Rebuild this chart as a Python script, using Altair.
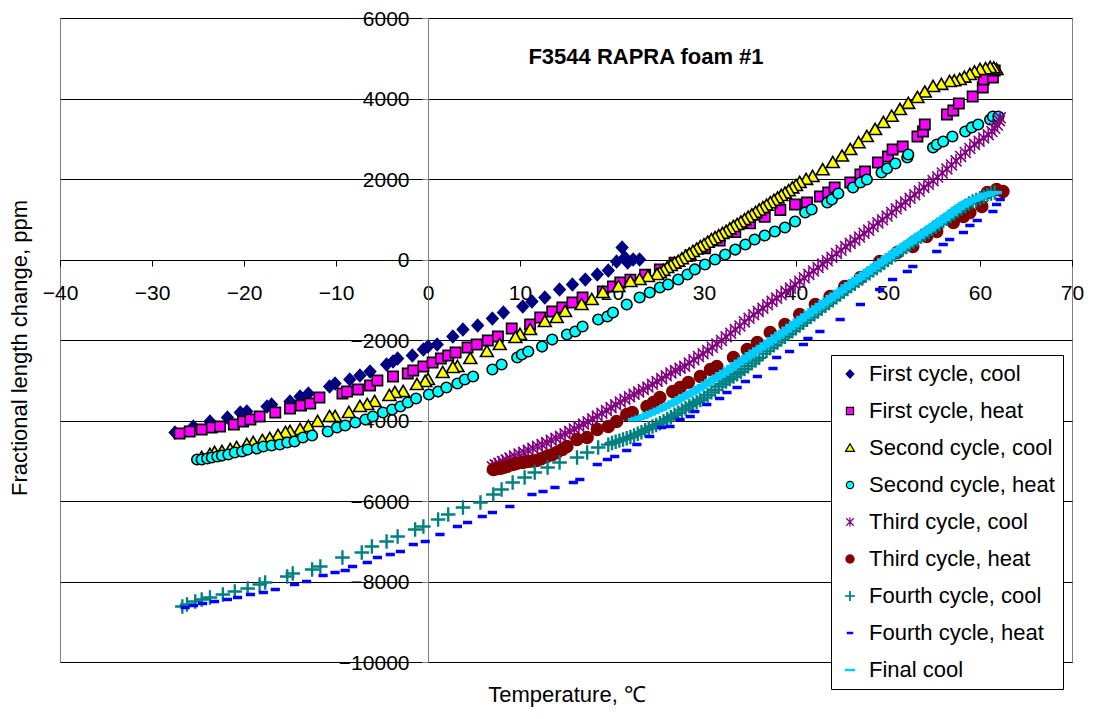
import altair as alt
import pandas as pd

FONT = "Liberation Sans"

series_names = [
    "First cycle, cool", "First cycle, heat", "Second cycle, cool", "Second cycle, heat",
    "Third cycle, cool", "Third cycle, heat", "Fourth cycle, cool", "Fourth cycle, heat", "Final cool",
]

# ---- First cycle, cool ----
t_c1_cool = [23.0, 22.3, 21.7, 21.4, 21.1, 20.5, 19.6, 18.4, 17.1, 15.7, 14.3, 12.7, 11.3, 10.3, 8.2,
             7.0, 5.4, 3.8, 2.7, 1.0, 0.0, -0.5, -1.7, -3.3, -3.8, -4.5, -6.3, -7.4, -8.5, -10.1,
             -10.7, -13.0, -13.9, -15.0, -17.0, -17.5, -19.7, -20.4, -21.8, -23.7, -25.5, -27.5]
p_c1_cool = [0, 0, -75, 50, 298, -50, -273, -373, -497, -621, -745, -944, -1043, -1168, -1317,
             -1466, -1640, -1739, -1913, -2112, -2162, -2236, -2385, -2460, -2534, -2609, -2783, -2882, -2981, -3081,
             -3155, -3329, -3404, -3528, -3603, -3652, -3776, -3801, -3926, -4025, -4149, -4298]

# ---- First cycle, heat ----
t_c1_heat = [-27.0, -25.9, -24.6, -23.5, -22.6, -21.1, -20.1, -19.3, -18.3, -16.6, -15.0, -13.8, -12.8, -11.8, -9.3,
             -8.8, -7.6, -6.3, -5.5, -3.8, -2.2, -1.6, -0.5, 0.5, 1.4, 2.2, 3.0, 4.3, 5.3, 6.5,
             7.6, 9.1, 11.1, 12.2, 13.5, 14.6, 15.7, 16.8, 19.0, 20.1, 20.9, 22.0, 23.6, 25.2, 26.8,
             28.5, 30.1, 31.7, 33.4, 35.0, 36.6, 38.3, 39.9, 41.2, 42.6, 43.5, 44.2, 45.9, 47.0, 47.5,
             48.9, 50.0, 50.5, 51.6, 53.2, 53.8, 54.0, 56.4, 57.1, 57.7, 59.2, 60.3, 60.4, 61.4, 61.6]
p_c1_heat = [-4323, -4273, -4224, -4174, -4149, -4099, -4025, -3975, -3901, -3801, -3702, -3627, -3578, -3429, -3329,
             -3280, -3230, -3130, -3006, -2907, -2832, -2758, -2658, -2559, -2460, -2385, -2311, -2186, -2112, -2012,
             -1913, -1714, -1615, -1441, -1292, -1193, -1068, -944, -795, -671, -571, -500, -380, -250, -80,
             100, 280, 470, 680, 900, 1060, 1230, 1366, 1416, 1565, 1665, 1789, 1913, 2112, 2186,
             2410, 2559, 2733, 2807, 3056, 3180, 3354, 3603, 3702, 3876, 4050, 4273, 4472, 4522, 4696]

# ---- Second cycle, cool ----
t_c2_cool = [61.8, 61.5, 61.1, 60.6, 60.0, 59.4, 58.9, 58.3, 57.8, 57.2, 56.7, 55.8, 54.9, 54.0, 53.2,
             52.2, 51.3, 50.4, 49.5, 48.6, 47.7, 46.8, 45.9, 45.0, 44.0, 42.9, 41.8, 41.1, 40.4,
             40.0, 39.6, 39.2, 38.8, 38.4, 38.0, 37.6, 37.2, 36.8, 36.4, 36.0, 35.6, 35.2, 34.8, 34.4,
             34.0, 33.6, 33.2, 32.8, 32.4, 32.0, 31.6, 31.2, 30.8, 30.4, 30.0, 29.6, 29.2, 28.8, 28.4,
             28.0, 27.6, 27.2, 26.8, 26.4, 26.0, 25.6, 25.2,
             24.9, 23.9, 23.0, 22.0, 20.7, 19.0, 17.8, 16.7, 14.9, 14.0, 12.7, 11.1, 10.0, 9.5, 7.8,
             6.4, 4.6, 3.2, 2.7, 1.6, 0.0, -0.3, -1.2, -2.7, -3.6, -4.2, -5.8, -6.6, -7.4, -8.6,
             -10.1, -10.7, -12.0, -13.0, -13.9, -15.0, -15.5, -16.3, -17.2, -18.0, -19.0, -19.7, -20.8, -21.5,
             -22.4, -23.2, -23.7, -24.6]
p_c2_cool = [4720, 4760, 4770, 4740, 4720, 4660, 4596, 4530, 4472, 4440, 4422, 4350, 4298, 4160, 4025,
             3880, 3727, 3560, 3404, 3230, 3056, 2900, 2733, 2570, 2410, 2230, 2062, 1990, 1913,
             1840, 1780, 1710, 1650, 1590, 1530, 1470, 1410, 1350, 1290, 1230, 1170, 1110, 1050, 990,
             930, 870, 820, 760, 700, 650, 590, 540, 490, 430, 370, 320, 260, 200, 140,
             80, 20, -40, -90, -150, -200, -270, -330,
             -373, -422, -497, -547, -671, -820, -994, -1118, -1292, -1441, -1540, -1739, -1863, -1938, -2112,
             -2286, -2460, -2658, -2683, -2807, -2981, -3031, -3106, -3280, -3304, -3379, -3528, -3603, -3652, -3801,
             -3901, -3901, -4025, -4149, -4224, -4273, -4298, -4373, -4447, -4497, -4547, -4596, -4671, -4721,
             -4770, -4795, -4845, -4919]

# ---- Second cycle, heat ----
t_c2_heat = [-25.1, -24.6, -24.0, -23.5, -22.9, -22.4, -21.7, -21.0, -20.2, -19.6, -18.6, -17.9, -17.0, -16.1, -15.3,
             -14.5, -13.6, -12.6, -10.9, -9.9, -9.0, -7.9, -6.8, -6.0, -4.9, -3.9, -3.0, -2.2, -1.3, 0.1,
             1.1, 2.0, 3.2, 4.0, 4.9, 7.0, 8.0, 9.7, 10.2, 10.9, 12.4, 13.5, 15.1, 16.0, 16.8,
             18.5, 19.5, 20.1, 21.6, 23.0, 24.1, 25.2, 26.1, 27.2, 28.2, 29.0, 30.1, 31.2, 32.3, 33.4,
             34.5, 35.5, 36.6, 37.7, 38.8, 39.9, 41.0, 41.7, 43.4, 43.9, 44.6, 46.2, 47.0, 47.7, 49.3,
             49.9, 50.8, 52.1, 52.2, 54.9, 55.3, 56.0, 57.0, 58.4, 59.1, 59.8, 61.1, 61.4, 62.0]
p_c2_heat = [-4969, -4969, -4944, -4919, -4894, -4870, -4845, -4795, -4770, -4721, -4696, -4646, -4621, -4596, -4547,
             -4522, -4422, -4373, -4273, -4174, -4124, -4050, -3975, -3901, -3801, -3727, -3652, -3553, -3453, -3354,
             -3280, -3180, -3081, -2981, -2907, -2733, -2609, -2435, -2360, -2286, -2162, -1988, -1863, -1789, -1665,
             -1491, -1416, -1317, -1118, -944, -820, -696, -621, -497, -373, -248, -124, 0, 124, 248,
             373, 497, 596, 696, 795, 944, 1168, 1242, 1416, 1491, 1640, 1789, 1913, 1988, 2162,
             2261, 2385, 2534, 2609, 2783, 2857, 2932, 3056, 3180, 3280, 3354, 3478, 3553, 3553]

# ---- Third cycle, cool ----
t_c3_cool = [62.2, 62.1, 61.9, 61.6, 61.3, 60.9, 60.4, 59.9, 59.4, 58.9, 58.4, 57.9, 57.4, 56.9, 56.4,
             55.9, 55.4, 54.9, 54.4, 53.9, 53.4, 52.9, 52.4, 51.9, 51.4, 50.9, 50.4, 49.9, 49.4, 48.9,
             48.4, 47.9, 47.4, 46.9, 46.4, 45.9, 45.4, 44.9, 44.4, 43.9, 43.4, 42.9, 42.4, 41.9, 41.4,
             40.9, 40.4, 39.9, 39.4, 38.9, 38.4, 37.9, 37.4, 36.9, 36.4, 35.9, 35.4, 34.9, 34.4, 33.9,
             33.4, 32.9, 32.4, 31.9, 31.4, 30.9, 30.4, 29.9, 29.4, 28.9, 28.4, 27.9, 27.4, 26.9, 26.4,
             25.9, 25.4, 24.9, 24.4, 23.9, 23.4, 22.9, 22.4, 21.9, 21.4, 20.9, 20.4, 19.9, 19.4, 18.9,
             18.4, 17.9, 17.4, 16.9, 16.4, 15.9, 15.4, 14.9, 14.4, 13.9, 13.4, 12.9, 12.4, 11.9, 11.4,
             10.9, 10.4, 9.9, 9.4, 8.9, 8.5, 8.1, 7.7, 7.3, 7.0]
p_c3_cool = [3520, 3450, 3340, 3260, 3180, 3100, 3020, 2940, 2860, 2760, 2660, 2560, 2450, 2350, 2250,
             2150, 2050, 1960, 1870, 1790, 1700, 1610, 1520, 1430, 1350, 1260, 1170, 1080, 990, 910,
             820, 730, 650, 560, 480, 400, 320, 230, 150, 55, -30, -115, -200, -285, -370,
             -455, -540, -625, -710, -790, -875, -960, -1040, -1125, -1210, -1290, -1375, -1460, -1550, -1650,
             -1740, -1830, -1920, -2010, -2100, -2180, -2260, -2340, -2410, -2490, -2570, -2650, -2700, -2760, -2820,
             -2890, -2960, -3030, -3100, -3170, -3230, -3290, -3350, -3410, -3470, -3540, -3610, -3680, -3750, -3820,
             -3890, -3960, -4030, -4090, -4150, -4210, -4270, -4330, -4390, -4440, -4490, -4550, -4600, -4640, -4690,
             -4740, -4790, -4830, -4880, -4930, -4980, -5020, -5060, -5100, -5150]

# ---- Third cycle, heat ----
t_c3_heat = [7.1, 7.4, 7.8, 8.2, 8.6, 9.2, 9.6, 10.3, 10.8, 11.3, 11.8, 12.3, 12.9, 13.5, 14.0,
             14.6, 15.1, 16.2, 17.3, 18.4, 19.6, 20.5, 21.6, 22.2, 23.8, 24.5, 25.2, 26.6, 27.4, 28.3,
             29.6, 30.7, 31.4, 33.2, 34.7, 35.8, 37.2, 38.8, 40.4, 42.1, 43.7, 45.3, 47.0, 49.1, 51.0,
             52.7, 54.2, 55.3, 57.1, 58.2, 58.9, 60.2, 60.8, 61.8, 62.5]
p_c3_heat = [-5218, -5200, -5190, -5168, -5140, -5093, -5070, -5044, -5020, -5010, -4994, -4950, -4894, -4850, -4795,
             -4720, -4646, -4472, -4422, -4224, -4149, -4025, -3851, -3801, -3652, -3553, -3429, -3280, -3180, -3056,
             -2907, -2733, -2658, -2435, -2236, -2062, -1814, -1615, -1366, -1118, -919, -671, -447, -50, 174,
             323, 571, 696, 919, 1068, 1168, 1317, 1665, 1739, 1690]

# ---- Fourth cycle, cool ----
t_c4_cool = [61.6, 61.2, 60.8, 60.4, 60.0, 59.6, 59.2, 58.8, 58.4, 58.0, 57.6, 57.2, 56.8, 56.4, 56.0,
             55.6, 55.2, 54.8, 54.4, 54.0, 53.6, 53.2, 52.8, 52.4, 52.0, 51.6, 51.2, 50.8, 50.4, 50.0,
             49.6, 49.2, 48.8, 48.4, 48.0, 47.6, 47.2, 46.8, 46.4, 46.0, 45.6, 45.2, 44.8, 44.4, 44.0,
             43.6, 43.2, 42.8, 42.4, 42.0, 41.6, 41.2, 40.8, 40.4, 40.0, 39.6, 39.2, 38.8, 38.4, 38.0,
             37.6, 37.2, 36.8, 36.4, 36.0, 35.6, 35.2, 34.8, 34.4, 34.0, 33.6, 33.2, 32.8, 32.4, 32.0,
             31.6, 31.2, 30.8, 30.4, 30.0, 29.6, 29.2, 28.8, 28.4, 28.0, 27.6, 27.2, 26.8, 26.4, 26.0,
             25.6, 25.2, 24.8, 24.4, 24.0, 23.6, 23.2, 22.8, 22.4, 22.0, 21.6, 21.2, 20.8, 20.4, 20.0,
             19.6, 18.5, 17.3, 16.2, 14.3, 13.0, 11.6, 10.5, 9.2, 8.0, 7.1, 5.7, 3.8, 2.2, 1.1,
             -0.5, -1.4, -3.3, -4.5, -6.1, -7.2, -9.3, -11.7, -12.6, -14.7, -15.3, -17.7, -18.3, -19.6, -21.0,
             -22.3, -23.7, -24.6, -25.3, -26.2, -26.7]
p_c4_cool = [1665, 1640, 1600, 1560, 1520, 1480, 1440, 1390, 1330, 1270, 1210, 1150, 1080, 1010, 950,
             880, 820, 760, 690, 630, 570, 500, 440, 380, 310, 250, 180, 120, 50, -10,
             -80, -140, -210, -270, -340, -400, -470, -530, -600, -660, -730, -800, -870, -940, -1010,
             -1080, -1150, -1220, -1290, -1360, -1430, -1500, -1570, -1640, -1710, -1780, -1850, -1920, -1990, -2060,
             -2130, -2200, -2270, -2340, -2440, -2510, -2580, -2650, -2720, -2790, -2850, -2910, -2970, -3030, -3100,
             -3160, -3240, -3300, -3370, -3430, -3490, -3540, -3590, -3640, -3700, -3750, -3810, -3860, -3920, -3970,
             -4020, -4070, -4110, -4150, -4200, -4240, -4290, -4330, -4370, -4410, -4440, -4470, -4500, -4530, -4560,
             -4600, -4671, -4795, -4919, -5044, -5168, -5292, -5416, -5540, -5714, -5839, -6037, -6162, -6335, -6460,
             -6634, -6708, -6882, -7006, -7131, -7280, -7404, -7627, -7702, -7801, -7876, -8025, -8075, -8174, -8249,
             -8323, -8398, -8447, -8497, -8571, -8621]

# ---- Fourth cycle, heat ----
t_c4_heat = [-26.4, -25.5, -24.5, -23.2, -21.8, -20.7, -19.3, -17.9, -16.6, -14.5, -13.2, -11.4, -10.1, -9.0, -8.2,
             -6.6, -5.5, -4.1, -3.0, -1.6, -0.3, 1.3, 3.2, 4.3, 5.9, 7.0, 8.9, 11.3, 12.5, 13.8,
             15.8, 16.5, 18.4, 19.5, 20.3, 21.6, 22.7, 24.1, 25.4, 26.3, 27.4, 28.5, 29.0, 30.3, 31.7,
             32.5, 33.6, 34.5, 35.8, 37.5, 37.9, 39.3, 40.8, 41.3, 42.6, 44.8, 47.0, 49.1, 50.5, 52.1,
             52.7, 55.3, 56.0, 56.7, 58.2, 58.9, 59.7, 61.4, 61.8, 62.2]
p_c4_heat = [-8646, -8596, -8547, -8497, -8447, -8398, -8323, -8273, -8199, -8075, -8000, -7851, -7776, -7727, -7627,
             -7528, -7404, -7329, -7255, -7081, -7006, -6832, -6634, -6534, -6385, -6286, -6137, -5839, -5764, -5665,
             -5540, -5466, -5093, -4969, -4894, -4745, -4596, -4398, -4174, -4149, -3975, -3901, -3776, -3603, -3453,
             -3304, -3180, -3031, -2907, -2708, -2435, -2286, -2112, -1963, -1789, -1491, -1118, -745, -497, -298,
             -174, 199, 373, 497, 671, 845, 969, 1193, 1366, 1491]

# ---- Final cool ----
t_final = [61.6, 61.2, 60.8, 60.4, 60.0, 59.6, 59.2, 58.8, 58.4, 58.0, 57.6, 57.2, 56.8, 56.4, 56.0,
           55.6, 55.2, 54.8, 54.4, 54.0, 53.6, 53.2, 52.8, 52.4, 52.0, 51.6, 51.2, 50.8, 50.4, 50.0,
           49.6, 49.2, 48.8, 48.4, 48.0, 47.6, 47.2, 46.8, 46.4, 46.0, 45.6, 45.2, 44.8, 44.4, 44.0,
           43.6, 43.2, 42.8, 42.4, 42.0, 41.6, 41.2, 40.8, 40.4, 40.0, 39.6, 39.2, 38.8, 38.4, 38.0,
           37.6, 37.2, 36.8, 36.4, 36.0, 35.6, 35.2, 34.8, 34.4, 34.0, 33.6, 33.2, 32.8, 32.4, 32.0,
           31.6, 31.2, 30.8, 30.4, 30.0, 29.6, 29.2, 28.8, 28.4, 28.0, 27.6, 27.2, 26.8, 26.4, 26.0,
           25.6, 25.2, 24.8, 24.4, 24.0, 23.6, 23.2, 22.8, 22.5]
p_final = [1665, 1650, 1620, 1590, 1550, 1510, 1480, 1440, 1390, 1330, 1270, 1200, 1130, 1070, 1000,
           940, 870, 810, 740, 680, 620, 560, 490, 430, 370, 310, 250, 180, 120, 50,
           -10, -80, -140, -210, -270, -340, -400, -470, -530, -600, -660, -730, -790, -860, -920,
           -990, -1050, -1120, -1180, -1250, -1310, -1380, -1440, -1510, -1570, -1640, -1710, -1780, -1840, -1900,
           -1970, -2030, -2100, -2160, -2220, -2280, -2340, -2410, -2470, -2530, -2590, -2660, -2720, -2780, -2840,
           -2900, -2950, -3010, -3070, -3130, -3180, -3240, -3290, -3340, -3390, -3440, -3490, -3540, -3590, -3630,
           -3680, -3720, -3760, -3800, -3840, -3880, -3920, -3950, -3980]

all_t = [t_c1_cool, t_c1_heat, t_c2_cool, t_c2_heat, t_c3_cool, t_c3_heat, t_c4_cool, t_c4_heat, t_final]
all_p = [p_c1_cool, p_c1_heat, p_c2_cool, p_c2_heat, p_c3_cool, p_c3_heat, p_c4_cool, p_c4_heat, p_final]

rows = []
for name, ts, ps in zip(series_names, all_t, all_p):
    for t, p in zip(ts, ps):
        rows.append({"series": name, "temp": t, "ppm": p})
df = pd.DataFrame(rows)
df["order"] = range(len(df))

fill_colors = ["#000080", "#FF00FF", "#FFFF00", "#00FFFF", "#800080", "#800000", "#008080", "#0000FF", "#00CCFF"]
stroke_colors = ["#000080", "#000000", "#000000", "#000000", "#800080", "#800000", "#008080", "#0000FF", "#00CCFF"]

DIAMOND = "M0,-0.8L0.74,0L0,0.8L-0.74,0Z"
SQUARE = "M-0.68,-0.68L0.68,-0.68L0.68,0.68L-0.68,0.68Z"
TRIANGLE = "M0,-0.8L0.85,0.66L-0.85,0.66Z"
CIRCLE = "M-0.7,0A0.7,0.7 0 1,0 0.7,0A0.7,0.7 0 1,0 -0.7,0Z"
DOT = "M-0.78,0A0.78,0.78 0 1,0 0.78,0A0.78,0.78 0 1,0 -0.78,0Z"
ASTERISK = "M0,-0.9L0,0.9M-0.72,-0.72L0.72,0.72M-0.72,0.72L0.72,-0.72"
PLUS = ("M-0.85,-0.05L-0.05,-0.05L-0.05,-0.85L0.05,-0.85L0.05,-0.05L0.85,-0.05L0.85,0.05"
        "L0.05,0.05L0.05,0.85L-0.05,0.85L-0.05,0.05L-0.85,0.05Z")
DASH = "M-0.5,-0.12L0.5,-0.12L0.5,0.12L-0.5,0.12Z"
LONGDASH = "M-0.85,-0.12L0.85,-0.12L0.85,0.12L-0.85,0.12Z"
shapes = [DIAMOND, SQUARE, TRIANGLE, CIRCLE, ASTERISK, DOT, PLUS, DASH, LONGDASH]

W, H = 1012, 644

leg = alt.Legend(
    orient="none", legendX=771, legendY=337, title=None,
    labelFont=FONT, labelFontSize=22, labelColor="black", labelLimit=0,
    strokeColor="black", fillColor="white", padding=8, rowPadding=15,
    symbolSize=110, symbolStrokeWidth=1.2, labelOffset=8,
)

x_enc = alt.X(
    "temp:Q",
    scale=alt.Scale(domain=[-40, 70], nice=False, zero=False),
    axis=alt.Axis(
        values=list(range(-40, 71, 10)), offset=-402, grid=False, title=None, format="d",
        labelFont=FONT, labelFontSize=21, labelColor="black", labelPadding=16,
        tickSize=6, tickColor="black", domainColor="black", labelOverlap=False, labelFlush=False,
    ),
)
y_enc = alt.Y(
    "ppm:Q",
    scale=alt.Scale(domain=[-10000, 6000], nice=False, zero=False),
    axis=alt.Axis(
        values=list(range(-10000, 6001, 2000)), offset=-368, grid=True, gridColor="black", gridWidth=1,
        title=None, format="d", labelFont=FONT, labelFontSize=21, labelColor="black", labelPadding=13,
        labelOffset=1,
        tickSize=6, tickColor="#808080", domainColor="#808080", labelOverlap=False, labelFlush=False,
    ),
)

points = alt.Chart(df).mark_point(filled=True, opacity=1, fillOpacity=1, strokeWidth=1.6, size=230).encode(
    x=x_enc,
    y=y_enc,
    fill=alt.Fill("series:N", scale=alt.Scale(domain=series_names, range=fill_colors), legend=leg, sort=series_names),
    stroke=alt.Stroke("series:N", scale=alt.Scale(domain=series_names, range=stroke_colors), legend=leg, sort=series_names),
    shape=alt.Shape("series:N", scale=alt.Scale(domain=series_names, range=shapes), legend=leg, sort=series_names),
    order=alt.Order("order:Q"),
)

title_df = pd.DataFrame({"label": ["F3544 RAPRA foam #1"]})
xt_df = pd.DataFrame({"label": ["Temperature, \u2103"]})
yt_df = pd.DataFrame({"label": ["Fractional length change, ppm"]})

title = alt.Chart(title_df).mark_text(
    font=FONT, fontSize=22, fontWeight="bold", color="black", align="center", baseline="middle"
).encode(x=alt.value(586), y=alt.value(39), text="label:N")
xtitle = alt.Chart(xt_df).mark_text(
    font=FONT, fontSize=22, color="black", align="center", baseline="middle"
).encode(x=alt.value(507), y=alt.value(677), text="label:N")
ytitle = alt.Chart(yt_df).mark_text(
    font=FONT, fontSize=22, color="black", align="center", baseline="middle", angle=270
).encode(x=alt.value(-40), y=alt.value(330), text="label:N")

chart = alt.layer(points, title, xtitle, ytitle).properties(
    width=W, height=H,
    autosize=alt.AutoSizeParams(type="none"),
    padding={"left": 52, "top": 10, "right": 13, "bottom": 48},
    background="white",
).configure_view(stroke="#808080", strokeWidth=1)

chart.save("out.html", embed_options={"renderer": "svg", "actions": False})
